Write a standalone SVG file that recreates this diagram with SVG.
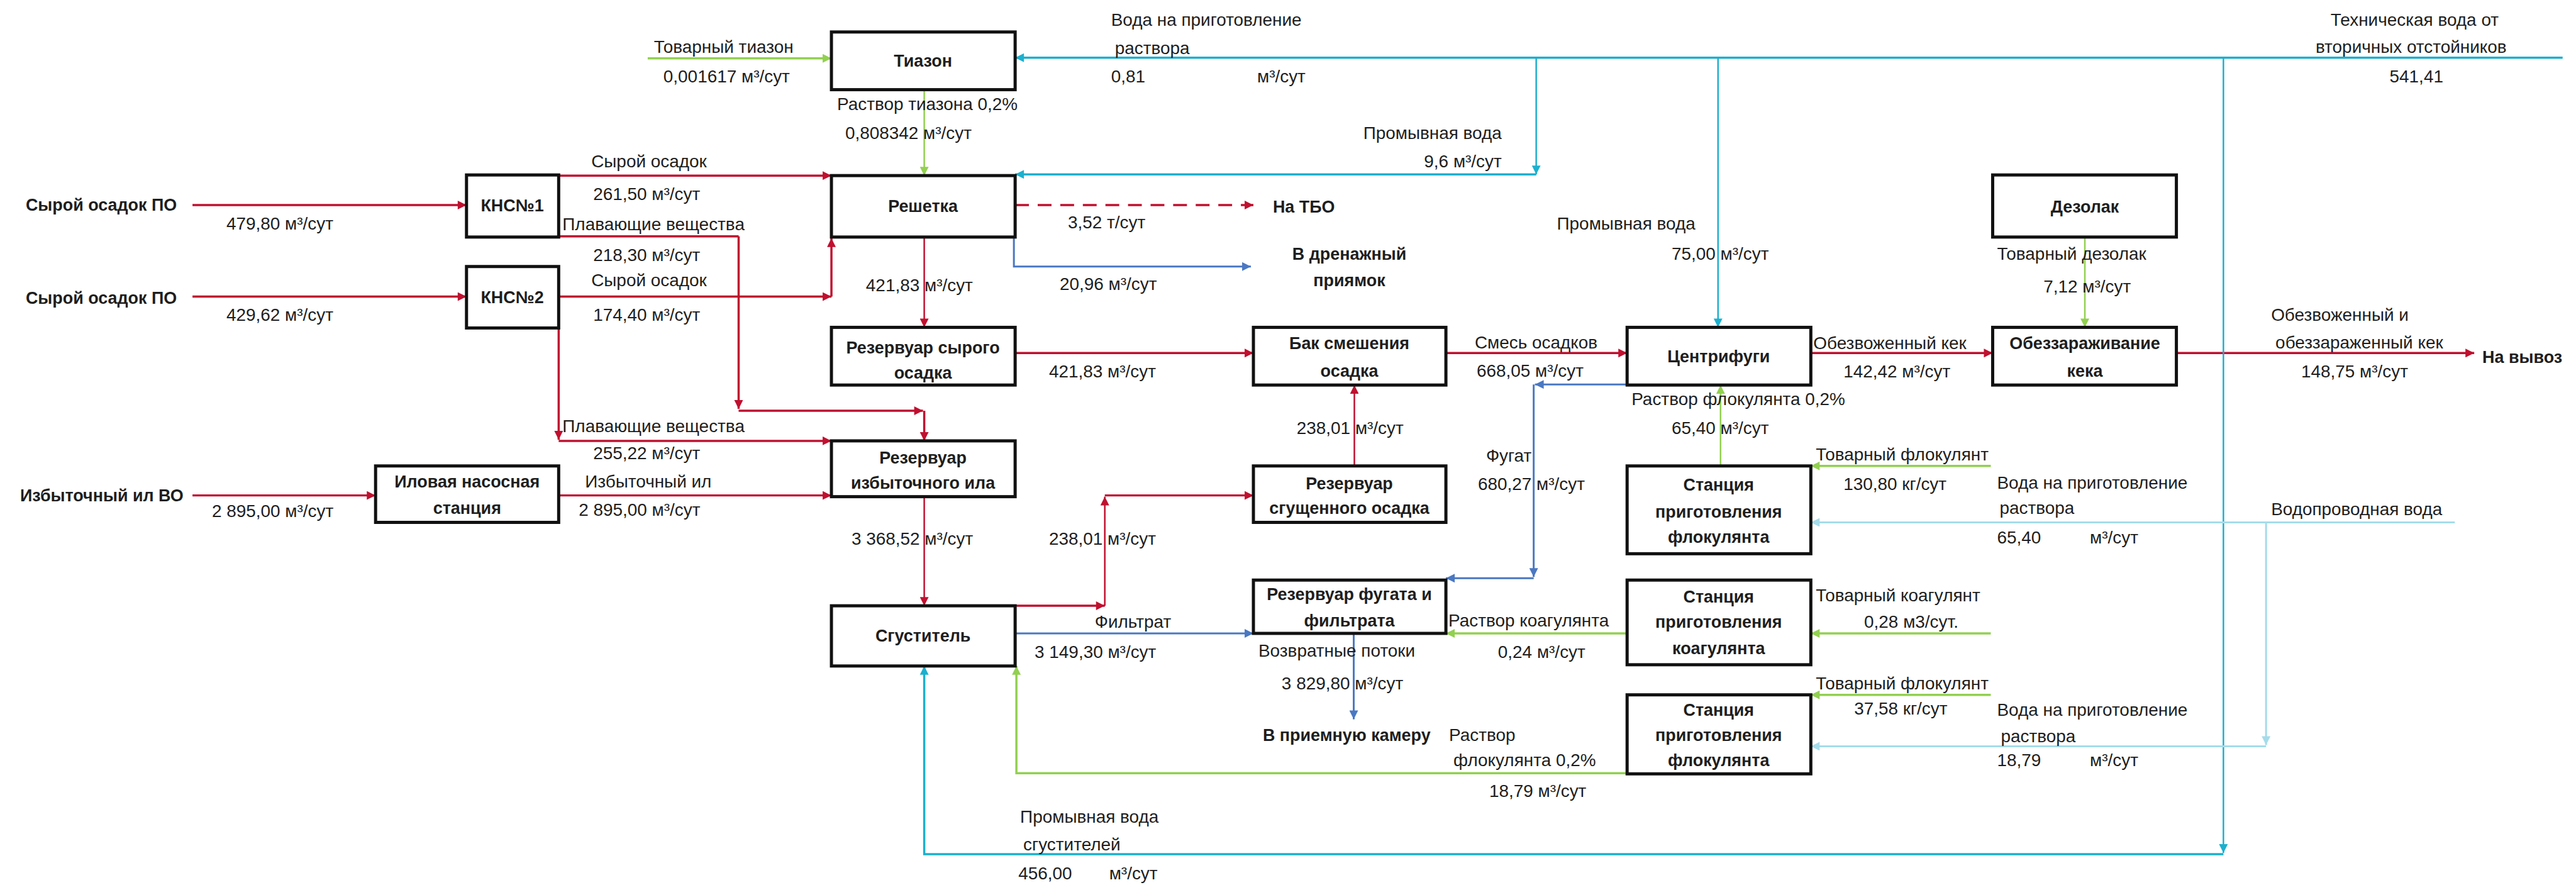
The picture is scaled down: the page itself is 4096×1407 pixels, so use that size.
<svg xmlns="http://www.w3.org/2000/svg" width="4096" height="1407" viewBox="0 0 4096 1407">
<style>
.t{font-family:"Liberation Sans",Arial,sans-serif;font-size:28px;fill:#1e1e1e}
.b{font-weight:bold;font-size:27px}
.c{text-anchor:middle}
.e{text-anchor:end}
.box{fill:#fff;stroke:#111;stroke-width:5}
.r{stroke:#C0102F;stroke-width:3.5;fill:none}
.rt{stroke:#C0102F;stroke-width:2.5;fill:none}
.g{stroke:#92D050;stroke-width:3.5;fill:none}
.gt{stroke:#92D050;stroke-width:2.5;fill:none}
.cy{stroke:#1BB0CE;stroke-width:3.5;fill:none}
.cyt{stroke:#1BB0CE;stroke-width:2.5;fill:none}
.lc{stroke:#A5DCEA;stroke-width:3;fill:none}
.bl{stroke:#4A78C2;stroke-width:3;fill:none}
</style>
<defs>
<marker id="aR" viewBox="0 0 10 10" refX="10" refY="5" markerWidth="16" markerHeight="14" markerUnits="userSpaceOnUse" orient="auto"><path d="M0,0L10,5L0,10z" fill="#C0102F"/></marker>
<marker id="aG" viewBox="0 0 10 10" refX="10" refY="5" markerWidth="16" markerHeight="14" markerUnits="userSpaceOnUse" orient="auto"><path d="M0,0L10,5L0,10z" fill="#92D050"/></marker>
<marker id="aC" viewBox="0 0 10 10" refX="10" refY="5" markerWidth="16" markerHeight="14" markerUnits="userSpaceOnUse" orient="auto"><path d="M0,0L10,5L0,10z" fill="#1BB0CE"/></marker>
<marker id="aL" viewBox="0 0 10 10" refX="10" refY="5" markerWidth="16" markerHeight="14" markerUnits="userSpaceOnUse" orient="auto"><path d="M0,0L10,5L0,10z" fill="#A5DCEA"/></marker>
<marker id="aB" viewBox="0 0 10 10" refX="10" refY="5" markerWidth="16" markerHeight="14" markerUnits="userSpaceOnUse" orient="auto"><path d="M0,0L10,5L0,10z" fill="#4A78C2"/></marker>
</defs>
<rect width="4096" height="1407" fill="#fff"/>
<g transform="scale(0.997)">
<g id="connectors">
<!-- red -->
<line class="r" x1="307" y1="327" x2="744" y2="327" marker-end="url(#aR)"/>
<line class="r" x1="307" y1="473" x2="744" y2="473" marker-end="url(#aR)"/>
<line class="r" x1="307" y1="790" x2="599" y2="790" marker-end="url(#aR)"/>
<line class="r" x1="891" y1="280" x2="1326" y2="280" marker-end="url(#aR)"/>
<line class="r" x1="891" y1="377" x2="1178" y2="377"/>
<line class="r" x1="1178" y1="377" x2="1178" y2="652" marker-end="url(#aR)"/>
<line class="r" x1="1178" y1="655" x2="1472" y2="655" marker-end="url(#aR)"/>
<line class="r" x1="1474" y1="655" x2="1474" y2="703" marker-end="url(#aR)"/>
<line class="r" x1="891" y1="473" x2="1326" y2="473" marker-end="url(#aR)"/>
<line class="r" x1="1326" y1="473" x2="1326" y2="380" marker-end="url(#aR)"/>
<line class="r" x1="891" y1="523" x2="891" y2="701" marker-end="url(#aR)"/>
<line class="r" x1="891" y1="703" x2="1326" y2="703" marker-end="url(#aR)"/>
<line class="r" x1="891" y1="790" x2="1326" y2="790" marker-end="url(#aR)"/>
<line class="rt" x1="1474" y1="378" x2="1474" y2="522" marker-end="url(#aR)"/>
<line class="r" x1="1619" y1="327" x2="1999" y2="327" stroke-dasharray="22,14" marker-end="url(#aR)"/>
<line class="r" x1="1619" y1="563" x2="1999" y2="563" marker-end="url(#aR)"/>
<line class="rt" x1="1474" y1="792" x2="1474" y2="966" marker-end="url(#aR)"/>
<line class="r" x1="1619" y1="966" x2="1762" y2="966" marker-end="url(#aR)"/>
<line class="rt" x1="1762" y1="966" x2="1762" y2="792" marker-end="url(#aR)"/>
<line class="r" x1="1762" y1="790" x2="1999" y2="790" marker-end="url(#aR)"/>
<line class="rt" x1="2160" y1="743" x2="2160" y2="614" marker-end="url(#aR)"/>
<line class="r" x1="2306" y1="563" x2="2595" y2="563" marker-end="url(#aR)"/>
<line class="r" x1="2888" y1="563" x2="3178" y2="563" marker-end="url(#aR)"/>
<line class="r" x1="3471" y1="563" x2="3946" y2="563" marker-end="url(#aR)"/>
<!-- green -->
<line class="g" x1="1033" y1="93" x2="1326" y2="93" marker-end="url(#aG)"/>
<line class="gt" x1="1474" y1="143" x2="1474" y2="280" marker-end="url(#aG)"/>
<line class="gt" x1="3325" y1="378" x2="3325" y2="522" marker-end="url(#aG)"/>
<line class="gt" x1="2744" y1="743" x2="2744" y2="614" marker-end="url(#aG)"/>
<line class="g" x1="3175" y1="743" x2="2888" y2="743" marker-end="url(#aG)"/>
<line class="g" x1="3175" y1="1010" x2="2888" y2="1010" marker-end="url(#aG)"/>
<line class="g" x1="2595" y1="1010" x2="2306" y2="1010" marker-end="url(#aG)"/>
<line class="g" x1="3175" y1="1108" x2="2888" y2="1108" marker-end="url(#aG)"/>
<polyline class="g" points="2595,1233 1621,1233 1621,1062" marker-end="url(#aG)"/>
<!-- cyan -->
<line class="cy" x1="4087" y1="92" x2="1619" y2="92" marker-end="url(#aC)"/>
<line class="cyt" x1="2450" y1="92" x2="2450" y2="278" marker-end="url(#aC)"/>
<line class="cy" x1="2450" y1="278" x2="1619" y2="278" marker-end="url(#aC)"/>
<line class="cyt" x1="2740" y1="92" x2="2740" y2="522" marker-end="url(#aC)"/>
<line class="cyt" x1="3546" y1="92" x2="3546" y2="1360" marker-end="url(#aC)"/>
<polyline class="cy" points="3546,1362 1474,1362 1474,1062" marker-end="url(#aC)"/>
<!-- light cyan -->
<line class="lc" x1="3915" y1="833" x2="2888" y2="833" marker-end="url(#aL)"/>
<line class="lc" x1="3614" y1="833" x2="3614" y2="1188" marker-end="url(#aL)"/>
<line class="lc" x1="3614" y1="1190" x2="2888" y2="1190" marker-end="url(#aL)"/>
<!-- blue -->
<polyline class="bl" points="1617,378 1617,425 1995,425" marker-end="url(#aB)"/>
<line class="bl" x1="1619" y1="1010" x2="1999" y2="1010" marker-end="url(#aB)"/>
<line class="bl" x1="2595" y1="613" x2="2448" y2="613" marker-end="url(#aB)"/>
<line class="bl" x1="2446" y1="613" x2="2446" y2="920" marker-end="url(#aB)"/>
<line class="bl" x1="2446" y1="922" x2="2306" y2="922" marker-end="url(#aB)"/>
<line class="bl" x1="2159" y1="1010" x2="2159" y2="1147" marker-end="url(#aB)"/>
</g>
<g id="n-kns1"><rect class="box" x="744" y="279" width="147" height="99"/><text class="t b c" x="817" y="337">КНС№1</text></g>
<g id="n-kns2"><rect class="box" x="744" y="425" width="147" height="98"/><text class="t b c" x="817" y="483">КНС№2</text></g>
<g id="n-ilovaya"><rect class="box" x="599" y="743" width="292" height="90"/><text class="t b c" x="745" y="777">Иловая насосная</text><text class="t b c" x="745" y="819">станция</text></g>
<g id="n-tiazon"><rect class="box" x="1326" y="51" width="293" height="92"/><text class="t b c" x="1472" y="106">Тиазон</text></g>
<g id="n-reshetka"><rect class="box" x="1326" y="280" width="293" height="98"/><text class="t b c" x="1472" y="338">Решетка</text></g>
<g id="n-rez-syr"><rect class="box" x="1326" y="522" width="293" height="92"/><text class="t b c" x="1472" y="564">Резервуар сырого</text><text class="t b c" x="1472" y="604">осадка</text></g>
<g id="n-rez-izb"><rect class="box" x="1326" y="703" width="293" height="89"/><text class="t b c" x="1472" y="739">Резервуар</text><text class="t b c" x="1472" y="779">избыточного ила</text></g>
<g id="n-sgustitel"><rect class="box" x="1326" y="966" width="293" height="96"/><text class="t b c" x="1472" y="1023">Сгуститель</text></g>
<g id="n-bak"><rect class="box" x="1999" y="522" width="307" height="92"/><text class="t b c" x="2152" y="557">Бак смешения</text><text class="t b c" x="2152" y="601">осадка</text></g>
<g id="n-rez-sgush"><rect class="box" x="1999" y="743" width="307" height="90"/><text class="t b c" x="2152" y="780">Резервуар</text><text class="t b c" x="2152" y="819">сгущенного осадка</text></g>
<g id="n-rez-fugat"><rect class="box" x="1999" y="925" width="307" height="85"/><text class="t b c" x="2152" y="957">Резервуар фугата и</text><text class="t b c" x="2152" y="999">фильтрата</text></g>
<g id="n-centrifugi"><rect class="box" x="2595" y="522" width="293" height="92"/><text class="t b c" x="2741" y="578">Центрифуги</text></g>
<g id="n-flok1"><rect class="box" x="2595" y="743" width="293" height="140"/><text class="t b c" x="2741" y="782">Станция</text><text class="t b c" x="2741" y="825">приготовления</text><text class="t b c" x="2741" y="866">флокулянта</text></g>
<g id="n-koag"><rect class="box" x="2595" y="925" width="293" height="135"/><text class="t b c" x="2741" y="961">Станция</text><text class="t b c" x="2741" y="1001">приготовления</text><text class="t b c" x="2741" y="1043">коагулянта</text></g>
<g id="n-flok2"><rect class="box" x="2595" y="1108" width="293" height="126"/><text class="t b c" x="2741" y="1141">Станция</text><text class="t b c" x="2741" y="1182">приготовления</text><text class="t b c" x="2741" y="1222">флокулянта</text></g>
<g id="n-dezolak"><rect class="box" x="3178" y="279" width="293" height="99"/><text class="t b c" x="3325" y="339">Дезолак</text></g>
<g id="n-obezz"><rect class="box" x="3178" y="522" width="293" height="92"/><text class="t b c" x="3325" y="557">Обеззараживание</text><text class="t b c" x="3325" y="601">кека</text></g>
<g id="labels" class="t">
<text class="t b" x="41" y="336">Сырой осадок ПО</text>
<text x="361" y="366">479,80 м³/сут</text>
<text class="t b" x="41" y="484">Сырой осадок ПО</text>
<text x="361" y="512">429,62 м³/сут</text>
<text class="t b" x="32" y="799">Избыточный ил ВО</text>
<text x="338" y="824">2 895,00 м³/сут</text>
<text x="943" y="267">Сырой осадок</text>
<text x="946" y="319">261,50 м³/сут</text>
<text x="897" y="367">Плавающие вещества</text>
<text x="946" y="416">218,30 м³/сут</text>
<text x="943" y="456">Сырой осадок</text>
<text x="946" y="512">174,40 м³/сут</text>
<text x="897" y="689">Плавающие вещества</text>
<text x="946" y="732">255,22 м³/сут</text>
<text x="933" y="777">Избыточный ил</text>
<text x="923" y="822">2 895,00 м³/сут</text>
<text x="1043" y="84">Товарный тиазон</text>
<text x="1058" y="131">0,001617 м³/сут</text>
<text x="1335" y="176">Раствор тиазона 0,2%</text>
<text x="1348" y="222">0,808342 м³/сут</text>
<text x="1772" y="41">Вода на приготовление</text>
<text x="1778" y="86">раствора</text>
<text x="1772" y="131">0,81</text>
<text x="2005" y="131">м³/сут</text>
<text class="t e" x="2395" y="222">Промывная вода</text>
<text class="t e" x="2395" y="267">9,6 м³/сут</text>
<text x="1703" y="364">3,52 т/сут</text>
<text class="t b" x="2030" y="339">На ТБО</text>
<text x="1690" y="462">20,96 м³/сут</text>
<text class="t b c" x="2152" y="414">В дренажный</text>
<text class="t b c" x="2152" y="456">приямок</text>
<text x="1381" y="464">421,83 м³/сут</text>
<text x="2483" y="366">Промывная вода</text>
<text x="2666" y="414">75,00 м³/сут</text>
<text x="3717" y="41">Техническая вода от</text>
<text x="3693" y="84">вторичных отстойников</text>
<text x="3811" y="131">541,41</text>
<text x="3185" y="414">Товарный дезолак</text>
<text x="3259" y="466">7,12 м³/сут</text>
<text x="1673" y="602">421,83 м³/сут</text>
<text x="2352" y="556">Смесь осадков</text>
<text x="2355" y="601">668,05 м³/сут</text>
<text x="2892" y="557">Обезвоженный кек</text>
<text x="2940" y="602">142,42 м³/сут</text>
<text x="3622" y="512">Обезвоженный и</text>
<text x="3629" y="556">обеззараженный кек</text>
<text x="3670" y="602">148,75 м³/сут</text>
<text class="t b" x="3959" y="579">На вывоз</text>
<text x="2602" y="646">Раствор флокулянта 0,2%</text>
<text x="2666" y="692">65,40 м³/сут</text>
<text x="2068" y="692">238,01 м³/сут</text>
<text x="2370" y="736">Фугат</text>
<text x="2357" y="781">680,27 м³/сут</text>
<text x="2896" y="734">Товарный флокулянт</text>
<text x="2940" y="781">130,80 кг/сут</text>
<text x="3185" y="779">Вода на приготовление</text>
<text x="3189" y="819">раствора</text>
<text x="3185" y="867">65,40</text>
<text x="3333" y="867">м³/сут</text>
<text x="3622" y="821">Водопроводная вода</text>
<text x="1358" y="869">3 368,52 м³/сут</text>
<text x="1673" y="869">238,01 м³/сут</text>
<text x="1746" y="1001">Фильтрат</text>
<text x="1650" y="1049">3 149,30 м³/сут</text>
<text x="2310" y="999">Раствор коагулянта</text>
<text x="2389" y="1049">0,24 м³/сут</text>
<text x="2007" y="1047">Возвратные потоки</text>
<text x="2044" y="1099">3 829,80 м³/сут</text>
<text class="t b" x="2014" y="1182">В приемную камеру</text>
<text x="2311" y="1182">Раствор</text>
<text x="2318" y="1222">флокулянта 0,2%</text>
<text x="2375" y="1271">18,79 м³/сут</text>
<text x="2896" y="959">Товарный коагулянт</text>
<text x="2973" y="1001">0,28 м3/сут.</text>
<text x="2896" y="1099">Товарный флокулянт</text>
<text x="2957" y="1139">37,58 кг/сут</text>
<text x="3185" y="1141">Вода на приготовление</text>
<text x="3191" y="1184">раствора</text>
<text x="3185" y="1222">18,79</text>
<text x="3333" y="1222">м³/сут</text>
<text x="1627" y="1312">Промывная вода</text>
<text x="1632" y="1356">сгустителей</text>
<text x="1624" y="1402">456,00</text>
<text x="1769" y="1402">м³/сут</text>
</g>
</g>
</svg>
